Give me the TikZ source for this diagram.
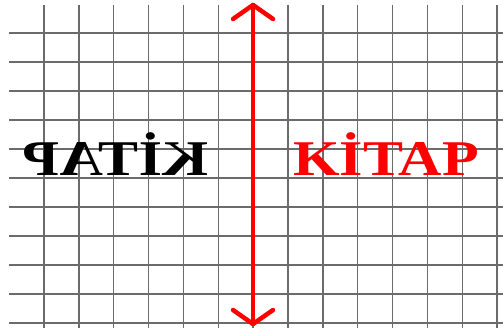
\documentclass[tikz,border=0pt]{standalone}
\usepackage{fontspec}
\setmainfont{Liberation Serif}
\begin{document}
\begin{tikzpicture}[x=1pt,y=-1pt,
  gridline/.style={draw=black!58, line width=1.4pt},
  mirror axis/.style={draw=red, line width=4.5pt, line cap=round, line join=round},
  word/.style={font=\fontsize{50}{50}\selectfont\bfseries, inner sep=0pt, anchor=base}]
\useasboundingbox[fill=white] (0,0) rectangle (503,328);
% horizontal grid lines
\foreach \k in {0,...,10}{
  \draw[gridline] (9,{33+29*\k}) -- (503,{33+29*\k});
}
% vertical grid lines
\foreach \k in {0,...,13}{
  \draw[gridline] ({44+34.85*\k},5) -- ({44+34.85*\k},328);
}
% words
\node[word, xscale=-1.2] (mirrored) at (116,176) {KİTAP};
\node[word, text=red, xscale=1.2] (real) at (386,176) {KİTAP};
% mirror axis with open arrowheads
\coordinate (top) at (253,5);
\coordinate (bot) at (253,324);
\draw[mirror axis] (top) -- (bot);
\draw[mirror axis] ([shift={(-20,14)}]top) -- (top) -- ([shift={(20,14)}]top);
\draw[mirror axis] ([shift={(-20,-14)}]bot) -- (bot) -- ([shift={(20,-14)}]bot);
\end{tikzpicture}
\end{document}
